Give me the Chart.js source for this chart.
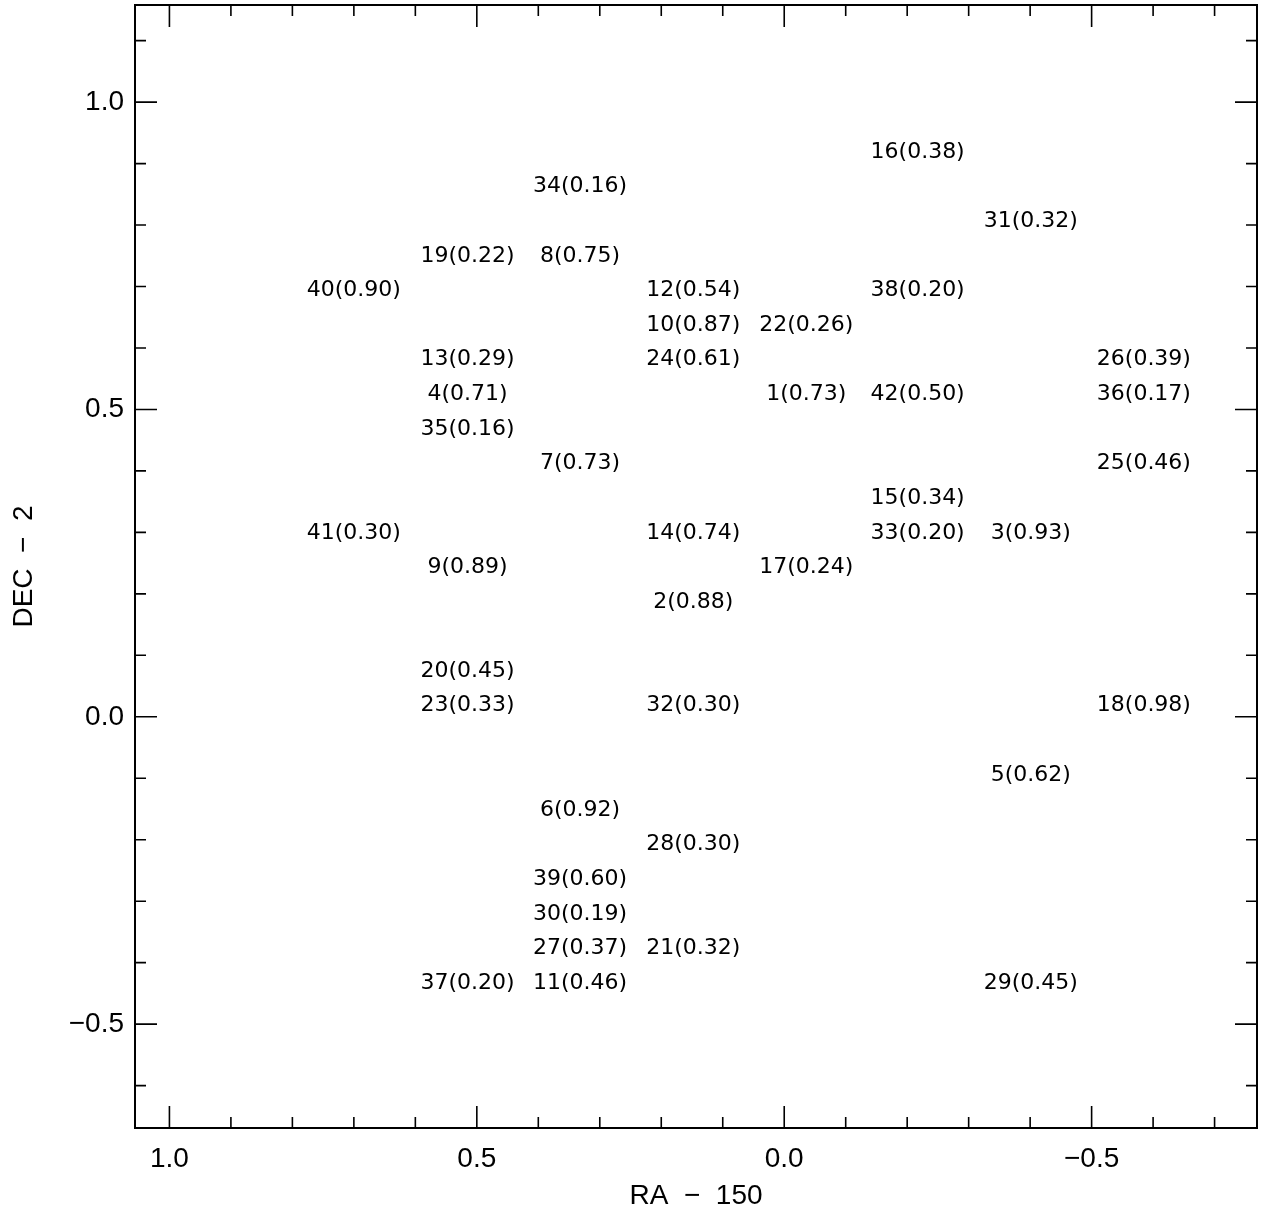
<!DOCTYPE html>
<html>
<head>
<meta charset="utf-8">
<script src="https://cdn.jsdelivr.net/npm/chart.js@4/dist/chart.umd.min.js"></script>
<style>
  body { margin: 0; background: #fff; }
  #wrap { width: 1265px; height: 1214px; }
</style>
</head>
<body>
<div id="wrap"><canvas class="chart"></canvas></div>
<script>
// source number, position (RA-150, DEC-2) and redshift of each field object
var srcId = [1, 2, 3, 4, 5, 6, 7, 8, 9, 10, 11, 12, 13, 14, 15, 16, 17, 18, 19, 20, 21,
             22, 23, 24, 25, 26, 27, 28, 29, 30, 31, 32, 33, 34, 35, 36, 37, 38, 39, 40, 41, 42];
var srcRa = [-0.036, 0.148, -0.401, 0.515, -0.401, 0.332, 0.332, 0.332, 0.515, 0.148, 0.332,
             0.148, 0.515, 0.148, -0.217, -0.217, -0.036, -0.585, 0.515, 0.515, 0.148,
             -0.036, 0.515, 0.148, -0.585, -0.585, 0.332, 0.148, -0.401, 0.332, -0.401,
             0.148, -0.217, 0.332, 0.515, -0.585, 0.515, -0.217, 0.332, 0.700, 0.700, -0.217];
var srcDec = [0.525, 0.187, 0.299, 0.525, -0.095, -0.152, 0.412, 0.750, 0.243, 0.637, -0.433,
              0.694, 0.581, 0.299, 0.356, 0.919, 0.243, 0.018, 0.750, 0.074, -0.377,
              0.637, 0.018, 0.581, 0.412, 0.581, -0.377, -0.208, -0.433, -0.321, 0.806,
              0.018, 0.299, 0.863, 0.468, 0.525, -0.433, 0.694, -0.264, 0.694, 0.299, 0.525];
var srcZ = [0.73, 0.88, 0.93, 0.71, 0.62, 0.92, 0.73, 0.75, 0.89, 0.87, 0.46,
            0.54, 0.29, 0.74, 0.34, 0.38, 0.24, 0.98, 0.22, 0.45, 0.32,
            0.26, 0.33, 0.61, 0.46, 0.39, 0.37, 0.30, 0.45, 0.19, 0.32,
            0.30, 0.20, 0.16, 0.16, 0.17, 0.20, 0.20, 0.60, 0.90, 0.30, 0.50];

// axis ranges and labels
var raRange = [-0.769, 1.056];
var decRange = [-0.669, 1.158];
var raTitle = 'RA  \u2212  150';
var decTitle = 'DEC  \u2212  2';

var FONT = '"Liberation Sans", Arial, sans-serif';
var LABEL_FONT = '22px "DejaVu Sans", sans-serif';

function tickText(v) {
  // only every 0.5 gets a label, the rest are minor ticks
  if (Math.abs(Math.round(v * 10)) % 5 !== 0) return '';
  var s = (Math.abs(v) < 1e-9 ? 0 : v).toFixed(1);
  return s.replace('-', '\u2212');
}

var frameTicks = {
  id: 'frameTicks',
  afterDraw: function(chart) {
    var ctx = chart.ctx, a = chart.chartArea;
    var sx = chart.scales.x, sy = chart.scales.y;
    ctx.save();
    ctx.strokeStyle = '#000';
    ctx.lineWidth = 2;
    ctx.strokeRect(a.left, a.top, a.right - a.left, a.bottom - a.top);
    ctx.lineWidth = 1.6;
    ctx.beginPath();
    sx.ticks.forEach(function(t) {
      var px = sx.getPixelForValue(t.value);
      var len = t.label ? 22 : 11;
      ctx.moveTo(px, a.bottom); ctx.lineTo(px, a.bottom - len);
      ctx.moveTo(px, a.top); ctx.lineTo(px, a.top + len);
    });
    sy.ticks.forEach(function(t) {
      var py = sy.getPixelForValue(t.value);
      var len = t.label ? 22 : 11;
      ctx.moveTo(a.left, py); ctx.lineTo(a.left + len, py);
      ctx.moveTo(a.right, py); ctx.lineTo(a.right - len, py);
    });
    ctx.stroke();
    ctx.restore();
  },
  afterDatasetsDraw: function(chart) {
    var ctx = chart.ctx;
    var meta = chart.getDatasetMeta(0);
    ctx.save();
    ctx.fillStyle = '#000';
    ctx.font = LABEL_FONT;
    ctx.textAlign = 'center';
    ctx.textBaseline = 'middle';
    meta.data.forEach(function(pt, i) {
      ctx.fillText(srcId[i] + '(' + srcZ[i].toFixed(2) + ')', pt.x, pt.y);
    });
    ctx.restore();
  }
};

var datos = {
  type: 'scatter',
  data: {
    datasets: [{
      data: srcRa.map(function(x, i) { return { x: x, y: srcDec[i] }; }),
      pointRadius: 0,
      pointHoverRadius: 0
    }]
  },
  options: {
    responsive: true,
    maintainAspectRatio: false,
    animation: false,
    events: [],
    layout: { padding: { left: 0, top: 5, right: 8, bottom: 0 } },
    plugins: { legend: { display: false }, tooltip: { enabled: false } },
    scales: {
      x: {
        type: 'linear',
        reverse: true,
        min: raRange[0],
        max: raRange[1],
        afterFit: function(s) { s.height = 86; s.paddingLeft = 0; s.paddingRight = 0; },
        grid: { display: false, drawTicks: false },
        border: { display: false },
        ticks: {
          stepSize: 0.1,
          includeBounds: false,
          autoSkip: false,
          maxRotation: 0,
          padding: 14,
          color: '#000',
          font: { family: FONT, size: 28 },
          callback: tickText
        },
        title: {
          display: true,
          text: raTitle,
          color: '#000',
          font: { family: FONT, size: 28 },
          padding: { top: 0, bottom: 1 }
        }
      },
      y: {
        type: 'linear',
        min: decRange[0],
        max: decRange[1],
        afterFit: function(s) { s.width = 135; s.paddingTop = 0; s.paddingBottom = 0; },
        grid: { display: false, drawTicks: false },
        border: { display: false },
        ticks: {
          stepSize: 0.1,
          includeBounds: false,
          autoSkip: false,
          padding: 11,
          color: '#000',
          font: { family: FONT, size: 28 },
          callback: tickText
        },
        title: {
          display: true,
          text: decTitle,
          color: '#000',
          font: { family: FONT, size: 28 },
          padding: { top: 7, bottom: 0 }
        }
      }
    }
  },
  plugins: [frameTicks]
};

var ctx = document.querySelector('.chart').getContext('2d');
window.sky = new Chart(ctx, datos);
</script>
</body>
</html>
